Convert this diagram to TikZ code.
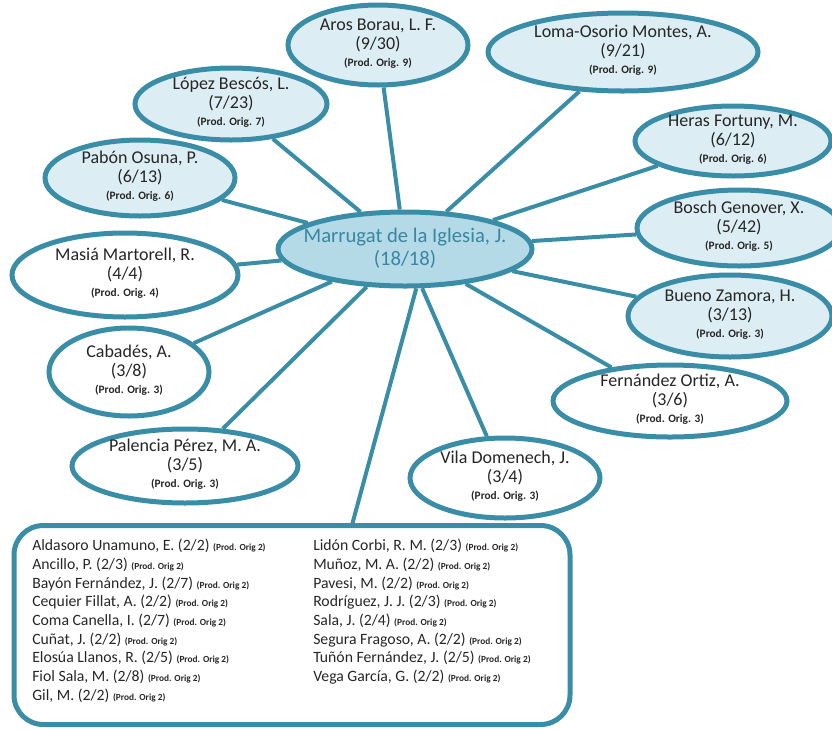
\documentclass[tikz,border=0pt]{standalone}
\usepackage{fontspec}
\setmainfont{Carlito}
\usetikzlibrary{shapes.geometric}

\definecolor{edgeteal}{HTML}{3A8DA6}
\definecolor{lightfill}{HTML}{DCEEF4}
\definecolor{hubfill}{HTML}{B3DAE6}
\definecolor{hubtext}{HTML}{3A86A0}
\definecolor{inktext}{HTML}{262626}

% font sizes for the author bubbles
\newcommand\satname{\fontsize{13.5}{13.5}\selectfont}
\newcommand\origfont{\fontsize{8.5}{9}\selectfont\bfseries}
% name, (shared/total), original production; zero-size box so the ellipse keeps its set size
\newcommand\sattext[3]{\raisebox{-3.5pt}[0pt][0pt]{\makebox[0pt]{\satname
  \begin{tabular}{@{}c@{}}#1\\#2\\[-1pt]{\origfont(Prod. Orig. #3)}\end{tabular}}}}
\newcommand\hubtext[2]{\raisebox{-4pt}[0pt][0pt]{\makebox[0pt]{\fontsize{15.5}{17}\selectfont
  \begin{tabular}{@{}c@{}}#1\\#2\end{tabular}}}}
\newcommand\po{{\fontsize{7}{7}\selectfont\bfseries(Prod. Orig 2)}}

\tikzset{
  ell/.style 2 args={ellipse, draw=edgeteal, line width=3.75pt, inner sep=0pt,
    minimum width=#1*1.5pt, minimum height=#2*1.5pt, text=inktext},
  lite/.style={fill=lightfill},
  plain/.style={fill=white},
  conn/.style={draw=edgeteal, line width=3pt},
  listtext/.style={anchor=north west, inner sep=0pt, align=left, text=inktext,
    font=\fontsize{11.8}{14}\selectfont}
}

\begin{document}
\begin{tikzpicture}[x=0.75pt, y=-0.75pt]
  \useasboundingbox (0,0) rectangle (832,729);
  \clip (0,0) rectangle (832,729);

  % central author
  \node[ell={127}{37}, fill=hubfill, text=hubtext] (hub) at (405,249)
    {\hubtext{Marrugat de la Iglesia, J.}{(18/18)}};

  % co-authors with three or more shared papers
  \node[ell={90}{40}, lite]  (aros)  at (378,45)  {\sattext{Aros Borau, L. F.}{(9/30)}{9}};
  \node[ell={135}{39}, lite] (loma)  at (623,52)  {\sattext{Loma-Osorio Montes, A.}{(9/21)}{9}};
  \node[ell={96}{36}, lite]  (lopez) at (231,104) {\sattext{López Bescós, L.}{(7/23)}{7}};
  \node[ell={98}{35}, lite]  (heras) at (733,141) {\sattext{Heras Fortuny, M.}{(6/12)}{6}};
  \node[ell={95}{38}, lite]  (pabon) at (140,178) {\sattext{Pabón Osuna, P.}{(6/13)}{6}};
  \node[ell={102}{38}, lite] (bosch) at (739,228) {\sattext{Bosch Genover, X.}{(5/42)}{5}};
  \node[ell={113}{42}, plain] (masia) at (125,275) {\sattext{Masiá Martorell, R.}{(4/4)}{4}};
  \node[ell={102}{41}, lite] (bueno) at (730,316) {\sattext{Bueno Zamora, H.}{(3/13)}{3}};
  \node[ell={80}{44}, plain] (cabades) at (129,372) {\sattext{Cabadés, A.}{(3/8)}{3}};
  \node[ell={117}{36}, plain] (fernandez) at (670,401) {\sattext{Fernández Ortiz, A.}{(3/6)}{3}};
  \node[ell={113}{37}, plain] (palencia) at (185,466) {\sattext{Palencia Pérez, M. A.}{(3/5)}{3}};
  \node[ell={95}{40}, plain] (vila) at (505,478) {\sattext{Vila Domenech, J.}{(3/4)}{3}};

  % co-authors with two shared papers
  \node[draw=edgeteal, line width=3.75pt, rounded corners=22pt, inner sep=0pt,
        minimum width=556*0.75pt, minimum height=199*0.75pt] (box) at (292,625) {};
  \coordinate (boxtop) at (352,525);

  \node[listtext] (col1) at (32,539) {%
    Aldasoro Unamuno, E. (2/2) \po\\
    Ancillo, P. (2/3) \po\\
    Bayón Fernández, J. (2/7) \po\\
    Cequier Fillat, A. (2/2) \po\\
    Coma Canella, I. (2/7) \po\\
    Cuñat, J. (2/2) \po\\
    Elosúa Llanos, R. (2/5) \po\\
    Fiol Sala, M. (2/8) \po\\
    Gil, M. (2/2) \po};
  \node[listtext] (col2) at (313,539) {%
    Lidón Corbi, R. M. (2/3) \po\\
    Muñoz, M. A. (2/2) \po\\
    Pavesi, M. (2/2) \po\\
    Rodríguez, J. J. (2/3) \po\\
    Sala, J. (2/4) \po\\
    Segura Fragoso, A. (2/2) \po\\
    Tuñón Fernández, J. (2/5) \po\\
    Vega García, G. (2/2) \po};

  % links from the central author
  \foreach \n in {aros,loma,lopez,heras,pabon,bosch,masia,bueno,cabades,fernandez,palencia,vila}
    \draw[conn] (hub) -- (\n);
  \draw[conn] (hub.-74) -- (boxtop);
\end{tikzpicture}
\end{document}
